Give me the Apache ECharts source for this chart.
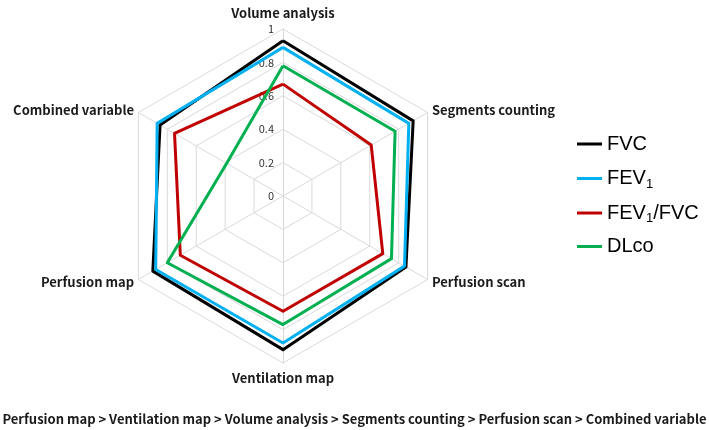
<!DOCTYPE html>
<html><head><meta charset="utf-8">
<script src="https://cdn.jsdelivr.net/npm/echarts@6/dist/echarts.min.js"></script>
<style>html,body{margin:0;padding:0;background:#fff}#c{width:709px;height:430px}</style>
</head><body><div id="c"></div>
<script>
// Indicators in counter-clockwise order starting from the top
const indicators = ['Volume analysis', 'Combined variable', 'Perfusion map', 'Ventilation map', 'Perfusion scan', 'Segments counting'];
const seriesNames = ['FVC', 'FEV1', 'FEV1/FVC', 'DLco'];
const fvc      = [0.93, 0.85, 0.90, 0.92, 0.85, 0.90];
const fev1     = [0.89, 0.87, 0.88, 0.88, 0.84, 0.87];
const fev1fvc  = [0.67, 0.75, 0.71, 0.69, 0.69, 0.61];
const dlco     = [0.78, 0.39, 0.80, 0.77, 0.75, 0.775];
const tickLabels = ['0', '0.2', '0.4', '0.6', '0.8', '1'];
const footnote = 'Perfusion map > Ventilation map > Volume analysis > Segments counting > Perfusion scan > Combined variable';

const colors = ['#000000', '#00B0F0', '#C00000', '#00B050'];
const values = [fvc, fev1, fev1fvc, dlco];
const font = '"Noto Sans CJK KR", "Noto Sans", sans-serif';

const chart = echarts.init(document.getElementById('c'), null, {renderer: 'canvas'});
chart.setOption({
  animation: false,
  title: {
    text: footnote, left: 'center', top: 408,
    textStyle: {fontFamily: font, fontSize: 13, fontWeight: 'bold', color: '#1a1a1a'}
  },
  legend: {
    orient: 'vertical', left: 572, top: 127, itemWidth: 25, itemHeight: 14, itemGap: 9.5,
    data: seriesNames.map((n, i) => ({name: n, icon: 'path://M0,0 L25,0 L25,3 L0,3 Z', itemStyle: {color: colors[i]}})),
    formatter: n => n.replace(/FEV1/g, 'FEV{sub|1}'),
    textStyle: {fontFamily: 'Liberation Sans, Arial, sans-serif', fontSize: 20, color: '#000', lineHeight: 24,
      rich: {sub: {fontFamily: 'Liberation Sans, Arial, sans-serif', fontSize: 13, color: '#000', verticalAlign: 'bottom', lineHeight: 14, padding: [12, 0, 0, 0]}}}
  },
  radar: {
    center: [283, 196], radius: 167, startAngle: 90, shape: 'polygon', splitNumber: 5,
    indicator: indicators.map((n, i) => ({
      name: n, min: 0, max: 1,
      nameGap: (i === 0 || i === 3) ? 9 : 5,
      axisLabel: i === 0 ? {show: true, showMinLabel: true, showMaxLabel: true, fontFamily: font, fontSize: 11, color: '#333', margin: 9,
        formatter: v => tickLabels[Math.round(v * 5)]} : {show: false}
    })),
    axisName: {fontFamily: font, fontSize: 13, fontWeight: 'bold', color: '#1a1a1a'},
    axisLine: {lineStyle: {color: '#d9d9d9', width: 1}},
    splitLine: {lineStyle: {color: '#d9d9d9', width: 1}},
    splitArea: {show: false},
    axisTick: {show: false},
    axisLabel: {show: false}
  },
  series: [{
    type: 'radar', symbol: 'none',
    data: seriesNames.map((n, i) => ({
      name: n, value: values[i],
      lineStyle: {color: colors[i], width: 3},
      itemStyle: {color: colors[i]}
    }))
  }]
});
</script></body></html>
